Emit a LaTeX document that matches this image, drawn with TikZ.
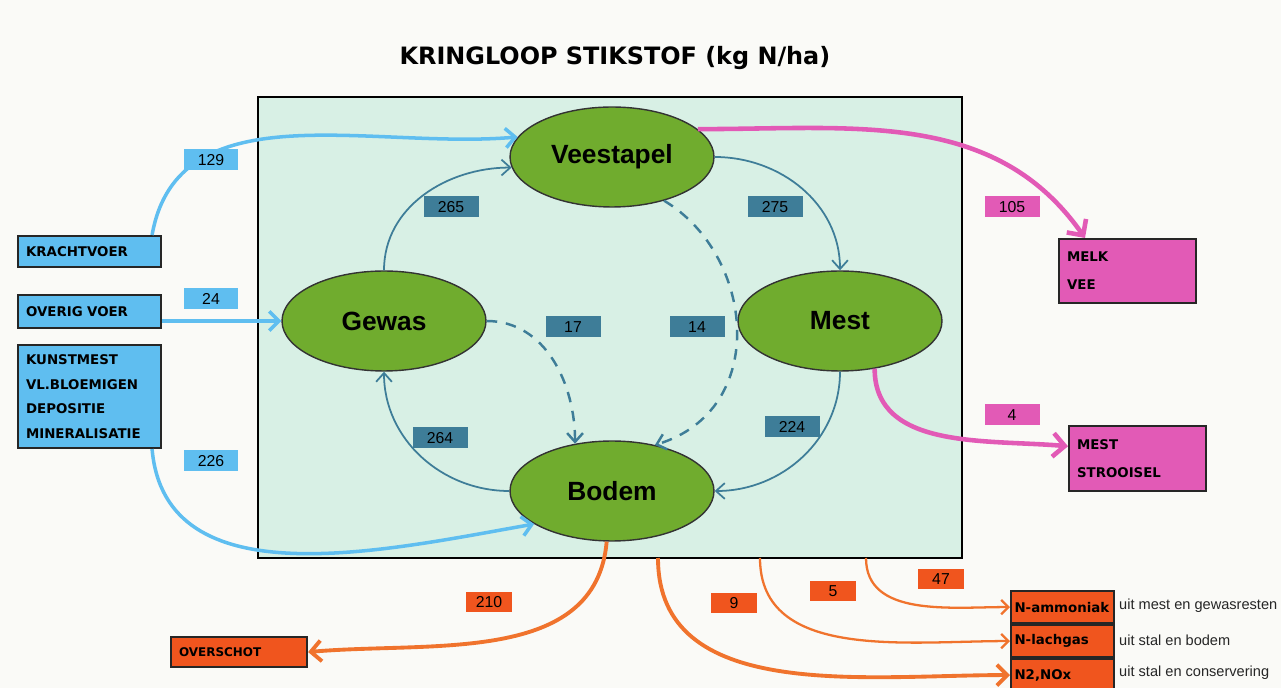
\documentclass[tikz,border=0pt]{standalone}
\usepackage{fontspec}
\setmainfont{Liberation Sans}
\newfontfamily\boxfont{DejaVu Sans}
\usetikzlibrary{arrows.meta,shapes.geometric}

\definecolor{achtergrond}{RGB}{250,250,247}
\definecolor{mint}{RGB}{216,240,229}
\definecolor{gras}{RGB}{112,172,46}
\definecolor{kringblauw}{RGB}{62,125,152}
\definecolor{lichtblauw}{RGB}{95,190,240}
\definecolor{roze}{RGB}{226,90,182}
\definecolor{oranje}{RGB}{240,85,30}
\definecolor{oranjelijn}{RGB}{240,115,45}

\tikzset{
  pool/.style={ellipse, draw=black!80, line width=0.8pt, fill=gras, minimum width=4.08cm,
    minimum height=2cm, inner sep=0pt, font=\bfseries\fontsize{15}{15}\selectfont},
  kader/.style={draw=black!85, line width=1.2pt, anchor=north west, align=left, inner xsep=0.16cm,
    font=\boxfont\bfseries\fontsize{7.6}{14}\selectfont},
  invoer/.style={kader, fill=lichtblauw, text width=2.54cm},
  afvoer/.style={kader, fill=roze, text width=2.42cm},
  verlies/.style={kader, fill=oranje},
  getal/.style={fill=#1, minimum width=1.1cm, minimum height=0.42cm, inner sep=0pt,
    font=\fontsize{9}{9}\selectfont},
  kring/.style={-{Straight Barb[length=5pt,width=9pt]}, draw=kringblauw, line width=1pt},
  stippel/.style={kring, line width=1.4pt, dash pattern=on 6pt off 5pt},
  toevoer/.style={->, draw=lichtblauw, line width=2pt},
  uitvoer/.style={->, draw=roze, line width=2.6pt},
  verliesstroom/.style={->, draw=oranjelijn, line width=1.3pt}
}

\begin{document}
\begin{tikzpicture}[x=0.02cm, y=-0.02cm, >={Straight Barb}]
    \fill[achtergrond] (0,0) rectangle (1281,688);
    \useasboundingbox (0,0) rectangle (1281,688);

    \node[font=\boxfont\bfseries\fontsize{13.6}{14}\selectfont] (titel) at (615,58) {KRINGLOOP STIKSTOF (kg N/ha)};
    \draw[fill=mint, line width=1pt] (258,97) rectangle (962,558);

    \node[pool] (veestapel) at (612,157) {Veestapel};
    \node[pool] (gewas) at (384,321) {Gewas};
    \node[pool] (mest) at (840,321) {Mest};
    \node[pool] (bodem) at (612,491) {Bodem};

    \node[invoer, minimum height=0.62cm] (krachtvoer) at (17,235) {KRACHTVOER};
    \node[invoer, minimum height=0.66cm] (overig) at (17,294) {OVERIG VOER};
    \node[invoer, minimum height=2.06cm] (kunstmest) at (17,344) {KUNSTMEST\\VL.BLOEMIGEN\\DEPOSITIE\\MINERALISATIE};

    \node[afvoer, minimum height=1.28cm, font=\boxfont\bfseries\fontsize{7.6}{16}\selectfont] (melk) at (1058,238) {MELK\\VEE};
    \node[afvoer, minimum height=1.3cm, font=\boxfont\bfseries\fontsize{7.6}{16}\selectfont] (strooisel) at (1068,425) {MEST\\STROOISEL};

    \node[verlies, text width=2.4cm, minimum height=0.6cm, font=\boxfont\bfseries\fontsize{6.8}{8}\selectfont] (overschot) at (170,636) {OVERSCHOT};
    \node[verlies, text width=1.92cm, inner xsep=0.07cm, minimum height=0.64cm] (ammoniak) at (1010,590) {N-ammoniak};
    \node[verlies, text width=1.92cm, inner xsep=0.07cm, minimum height=0.64cm] (lachgas) at (1010,624) {N-lachgas};
    \node[verlies, text width=1.92cm, inner xsep=0.07cm, minimum height=0.64cm] (nox) at (1010,658) {N2,NOx};
    \node[anchor=west, font=\fontsize{8.3}{8.3}\selectfont, text=black!85] (uitleg1) at (1113,606) {uit mest en gewasresten};
    \node[anchor=west, font=\fontsize{8.3}{8.3}\selectfont, text=black!85] (uitleg2) at (1113,640) {uit stal en bodem};
    \node[anchor=west, font=\fontsize{8.3}{8.3}\selectfont, text=black!85] (uitleg3) at (1113,673) {uit stal en conservering};

    % kringloop binnen het bedrijf
    \draw[kring] (gewas.north) to[out=90,in=180] (veestapel.186);
    \draw[kring] (veestapel.east) to[out=0,in=90] (mest.north);
    \draw[kring] (mest.south) to[out=-90,in=0] (bodem.east);
    \draw[kring] (bodem.west) to[out=180,in=-90] (gewas.south);
    \draw[stippel] (gewas.east) to[out=0,in=90] (bodem.128);
    \draw[stippel] (veestapel.-40) .. controls (755,255) and (770,410) .. (bodem.47);

    % aanvoer
    \draw[toevoer] ([xshift=-0.2cm]krachtvoer.north east) to[out=80,in=185] (veestapel.168);
    \draw[toevoer] (overig.east |- gewas.west) -- (gewas.west);
    \draw[toevoer] ([xshift=-0.2cm]kunstmest.south east) to[out=-85,in=190] (bodem.203);

    % afvoer
    \draw[uitvoer] (veestapel.18) to[out=0,in=125] ([xshift=0.54cm]melk.north west);
    \draw[uitvoer] (mest.-54) to[out=-90,in=175] (strooisel.170);

    % verliezen
    \coordinate (uit9) at (658,558);
    \coordinate (uit5) at (760,558);
    \coordinate (uit47) at (866,558);
    \draw[verliesstroom, line width=2.2pt] (bodem.-96) to[out=-95,in=5] (overschot.east);
    \draw[verliesstroom, line width=2.2pt] (uit9) to[out=-90,in=180] (nox.west);
    \draw[verliesstroom] (uit5) to[out=-90,in=180] (lachgas.west);
    \draw[verliesstroom] (uit47) to[out=-90,in=180] (ammoniak.west);

    \node[getal=lichtblauw] (n129) at (211,160) {129};
    \node[getal=lichtblauw] (n24) at (211,299) {24};
    \node[getal=lichtblauw] (n226) at (211,461) {226};
    \node[getal=kringblauw] (n265) at (451,207) {265};
    \node[getal=kringblauw] (n275) at (775,207) {275};
    \node[getal=kringblauw] (n17) at (573,327) {17};
    \node[getal=kringblauw] (n14) at (697,327) {14};
    \node[getal=kringblauw] (n264) at (440,438) {264};
    \node[getal=kringblauw] (n224) at (792,427) {224};
    \node[getal=roze] (n105) at (1012,207) {105};
    \node[getal=roze] (n4) at (1012,415) {4};
    \node[getal=oranje, minimum width=0.92cm] (n210) at (489,602) {210};
    \node[getal=oranje, minimum width=0.92cm] (n9) at (734,603) {9};
    \node[getal=oranje, minimum width=0.92cm] (n5) at (833,591) {5};
    \node[getal=oranje, minimum width=0.92cm] (n47) at (941,579) {47};
\end{tikzpicture}
\end{document}
